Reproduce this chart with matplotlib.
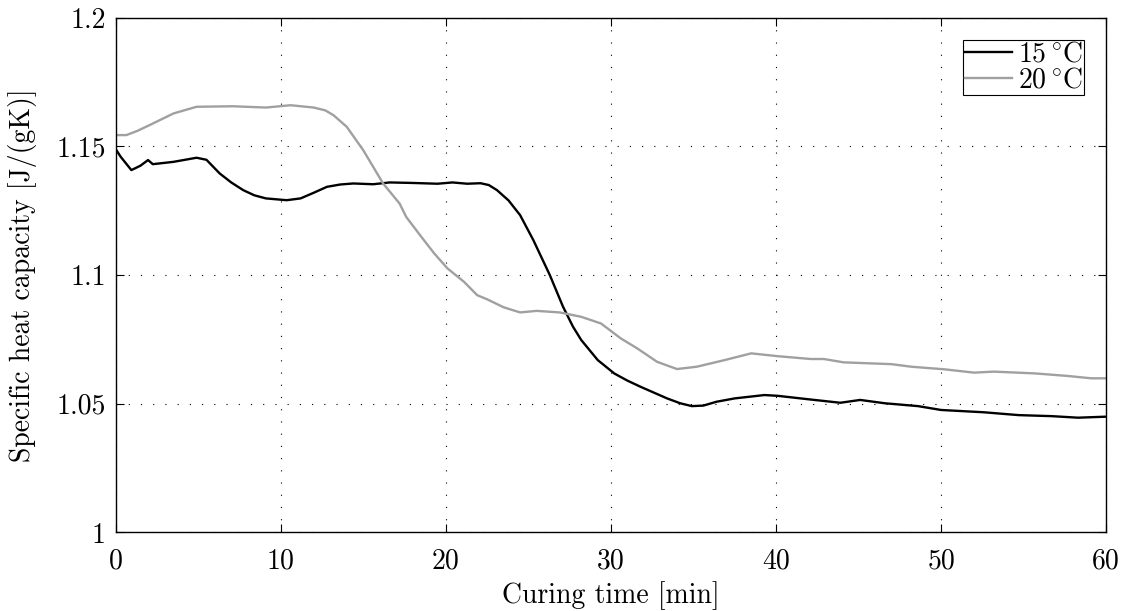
import matplotlib.pyplot as plt

plt.rcParams['font.family'] = ['cmr10', 'DejaVu Serif']
plt.rcParams['mathtext.fontset'] = 'cm'
plt.rcParams['axes.formatter.use_mathtext'] = True

# 15 degC curve
t15 = [0, 0.3, 0.95, 1.5, 1.96, 2.25, 3.5, 4.9, 5.5, 6.3, 7.0, 7.73, 8.4, 9.1, 10.36, 11.2, 12.0, 12.8,
       13.6, 14.4, 15.6, 16.6, 18.0, 19.5, 20.4, 21.3, 22.1, 22.6, 23.1, 23.8, 24.5, 25.3, 26.3, 27.1,
       27.7, 28.2, 29.2, 30.2, 31.0, 31.8, 33.4, 34.2, 34.9, 35.6, 36.4, 37.5, 39.3, 40.1, 41.9, 43.9,
       45.1, 46.6, 48.6, 50.0, 52.6, 54.7, 56.7, 58.3, 60]
c15 = [1.149, 1.146, 1.1408, 1.1425, 1.1447, 1.1431, 1.1440, 1.1456, 1.1448, 1.1395, 1.1360, 1.133,
       1.1310, 1.1298, 1.1291, 1.1298, 1.132, 1.1343, 1.1352, 1.1356, 1.1353, 1.136, 1.1358, 1.1355,
       1.136, 1.1355, 1.1357, 1.1350, 1.133, 1.1290, 1.1233, 1.1136, 1.100, 1.0877, 1.0800, 1.0748,
       1.067, 1.0618, 1.0590, 1.0566, 1.0521, 1.0502, 1.0491, 1.0493, 1.0508, 1.0521, 1.0534, 1.0531,
       1.0518, 1.0504, 1.0515, 1.0502, 1.0491, 1.0476, 1.0467, 1.0456, 1.0452, 1.0446, 1.045]

# 20 degC curve
t20 = [0, 0.65, 1.3, 2.06, 3.5, 4.9, 7.1, 9.1, 10.6, 12.0, 12.7, 13.2, 14.0, 15.0, 16.2, 17.2,
       17.6, 18.5, 19.3, 20.1, 21.1, 21.9, 22.5, 23.5, 24.5, 25.5, 26.9, 28.2, 29.4, 30.6, 31.6,
       32.8, 34.0, 35.2, 36.9, 38.5, 40.1, 42.1, 42.9, 44.1, 47.0, 48.2, 50.2, 52.0, 53.2, 55.7,
       57.7, 59.1, 60]
c20 = [1.1544, 1.1544, 1.1560, 1.1583, 1.1628, 1.1654, 1.1656, 1.1651, 1.166, 1.1651, 1.1640,
       1.1621, 1.1576, 1.1485, 1.1356, 1.1278, 1.1226, 1.1150, 1.1084, 1.1026, 1.0974, 1.0922,
       1.0906, 1.0875, 1.0855, 1.0861, 1.0855, 1.0838, 1.0812, 1.0754, 1.0715, 1.0663, 1.0635,
       1.0644, 1.067, 1.0696, 1.0685, 1.0674, 1.0674, 1.0661, 1.0654, 1.0644, 1.0634, 1.0621,
       1.0625, 1.0618, 1.0608, 1.0599, 1.0599]

xticks = [0, 10, 20, 30, 40, 50, 60]
yticks = [1, 1.05, 1.1, 1.15, 1.2]
ytick_labels = ['1', '1.05', '1.1', '1.15', '1.2']

fig, ax = plt.subplots(figsize=(11.23, 6.11), dpi=100)
fig.subplots_adjust(left=0.103, right=0.985, top=0.971, bottom=0.1285)

ax.plot(t15, c15, color='black', lw=1.7, label=r'$15\,^{\circ}\mathrm{C}$')
ax.plot(t20, c20, color='#a0a0a0', lw=1.7, label=r'$20\,^{\circ}\mathrm{C}$')

ax.set_xlim(0, 60)
ax.set_ylim(1, 1.2)
ax.set_xticks(xticks)
ax.set_xticklabels([str(v) for v in xticks])
ax.set_yticks(yticks)
ax.set_yticklabels(ytick_labels)
ax.tick_params(direction='in', top=True, right=True, length=6, width=0.8, labelsize=20)
ax.tick_params(axis='x', pad=11)
ax.tick_params(axis='y', pad=7)
ax.grid(True, color='black', linestyle=(0, (1, 10)), linewidth=0.8)
for s in ax.spines.values():
    s.set_linewidth(1.0)

ax.set_xlabel('Curing time [min]', fontsize=20, labelpad=5)
ax.set_ylabel('Specific heat capacity [J/(gK)]', fontsize=20, labelpad=14)

leg = ax.legend(loc='upper right', fontsize=20, fancybox=False, edgecolor='black',
                framealpha=1, handlelength=1.7, handletextpad=0.2, labelspacing=0.0,
                borderpad=0.05, borderaxespad=0.8)
leg.get_frame().set_linewidth(0.8)

fig.savefig('out.png', dpi=100)
